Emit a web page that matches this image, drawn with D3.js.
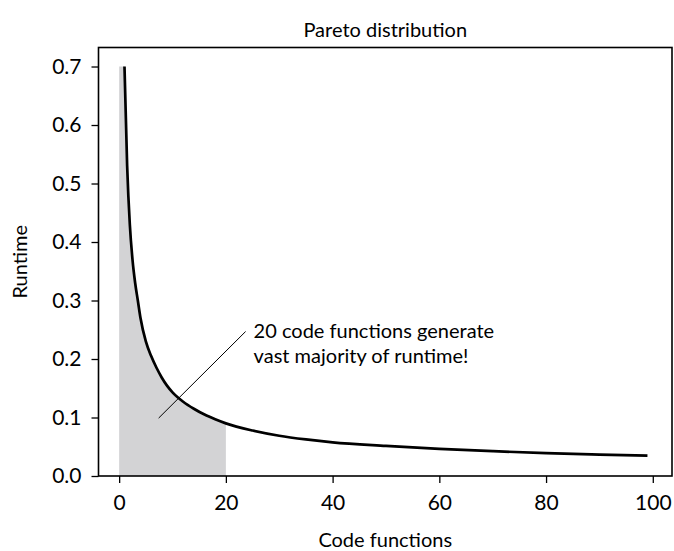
<!DOCTYPE html>
<html>
<head>
<meta charset="utf-8">
<script src="https://cdn.jsdelivr.net/npm/d3@7"></script>
<style>
  html, body { margin: 0; padding: 0; background: #fff; }
  svg { display: block; }
  text { font-family: Lato, "DejaVu Sans", sans-serif; fill: #000; }
</style>
</head>
<body>
<svg id="chart" width="674" height="551"></svg>
<script>
// ---- data ----
const functionIndex = [1, 1.5, 2, 2.5, 3, 3.5, 4, 5, 6, 7, 8, 9, 10, 12, 14, 16, 18, 20, 25, 30, 35, 40, 50, 60, 70, 80, 90, 99];
const runtimeValues = [0.70, 0.53, 0.43, 0.37, 0.33, 0.30, 0.27, 0.23, 0.205, 0.185, 0.168, 0.154, 0.143, 0.127, 0.115, 0.105, 0.097, 0.090, 0.0777, 0.0688, 0.0625, 0.0575, 0.0515, 0.0465, 0.0425, 0.039, 0.0365, 0.0347];
const shadeStart = 0, shadeEnd = 20, shadeTop = 0.70;
const xTicks = [0, 20, 40, 60, 80, 100];
const yTicks = [0.0, 0.1, 0.2, 0.3, 0.4, 0.5, 0.6, 0.7];
const titleText = "Pareto distribution";
const xLabel = "Code functions";
const yLabel = "Runtime";
const noteLines = ["20 code functions generate", "vast majority of runtime!"];
const notePoint = [7.4, 0.099];
const noteEnd = [23.7, 0.247];

// ---- layout ----
const svg = d3.select("#chart");
const mLeft = 98.5, mTop = 47.5, mRight = 672, mBottom = 476;
const x = d3.scaleLinear().domain([-3.87, 103.6]).range([mLeft, mRight]);
const y = d3.scaleLinear().domain([0, 0.7325]).range([mBottom, mTop]);

const pts = functionIndex.map((v, i) => ({x: v, y: runtimeValues[i]}));
const shadePts = [{x: shadeStart, y: shadeTop}].concat(pts.filter(d => d.x <= shadeEnd));

svg.append("path")
  .datum(shadePts)
  .attr("fill", "#d3d3d5")
  .attr("d", d3.area().x(d => x(d.x)).y0(y(0)).y1(d => y(d.y)).curve(d3.curveMonotoneX));

svg.append("path")
  .datum(pts)
  .attr("fill", "none")
  .attr("stroke", "#000")
  .attr("stroke-width", 2.7)
  .attr("d", d3.line().x(d => x(d.x)).y(d => y(d.y)).curve(d3.curveMonotoneX));

// annotation
svg.append("line")
  .attr("x1", x(notePoint[0])).attr("y1", y(notePoint[1]))
  .attr("x2", x(noteEnd[0])).attr("y2", y(noteEnd[1]))
  .attr("stroke", "#000").attr("stroke-width", 1);
const note = svg.append("text")
  .attr("x", x(noteEnd[0]) + 8).attr("y", y(noteEnd[1]) + 6)
  .style("font-size", "20px");
noteLines.forEach((t, i) => note.append("tspan").attr("x", x(noteEnd[0]) + 8).attr("dy", i === 0 ? 0 : 25).text(t));

// frame
svg.append("rect")
  .attr("x", mLeft).attr("y", mTop).attr("width", mRight - mLeft).attr("height", mBottom - mTop)
  .attr("fill", "none").attr("stroke", "#000").attr("stroke-width", 1.6);

// axes
const xAxis = svg.append("g").attr("transform", `translate(0,${mBottom})`)
  .call(d3.axisBottom(x).tickValues(xTicks).tickSize(7).tickPadding(12).tickFormat(d3.format("d")));
const yAxis = svg.append("g").attr("transform", `translate(${mLeft},0)`)
  .call(d3.axisLeft(y).tickValues(yTicks).tickSize(7).tickPadding(10).tickFormat(d3.format(".1f")));
[xAxis, yAxis].forEach(g => {
  g.select(".domain").remove();
  g.selectAll(".tick line").attr("stroke", "#000").attr("stroke-width", 1.3);
  g.selectAll(".tick text").style("font-size", "21px").style("font-family", "Lato, 'DejaVu Sans', sans-serif").attr("fill", "#000");
});

// labels
svg.append("text").attr("x", (mLeft + mRight) / 2).attr("y", 37)
  .attr("text-anchor", "middle").style("font-size", "20px").text(titleText);
svg.append("text").attr("x", (mLeft + mRight) / 2).attr("y", 547)
  .attr("text-anchor", "middle").style("font-size", "20px").text(xLabel);
svg.append("text").attr("transform", `translate(27,${(mTop + mBottom) / 2}) rotate(-90)`)
  .attr("text-anchor", "middle").style("font-size", "20px").text(yLabel);
</script>
</body>
</html>
